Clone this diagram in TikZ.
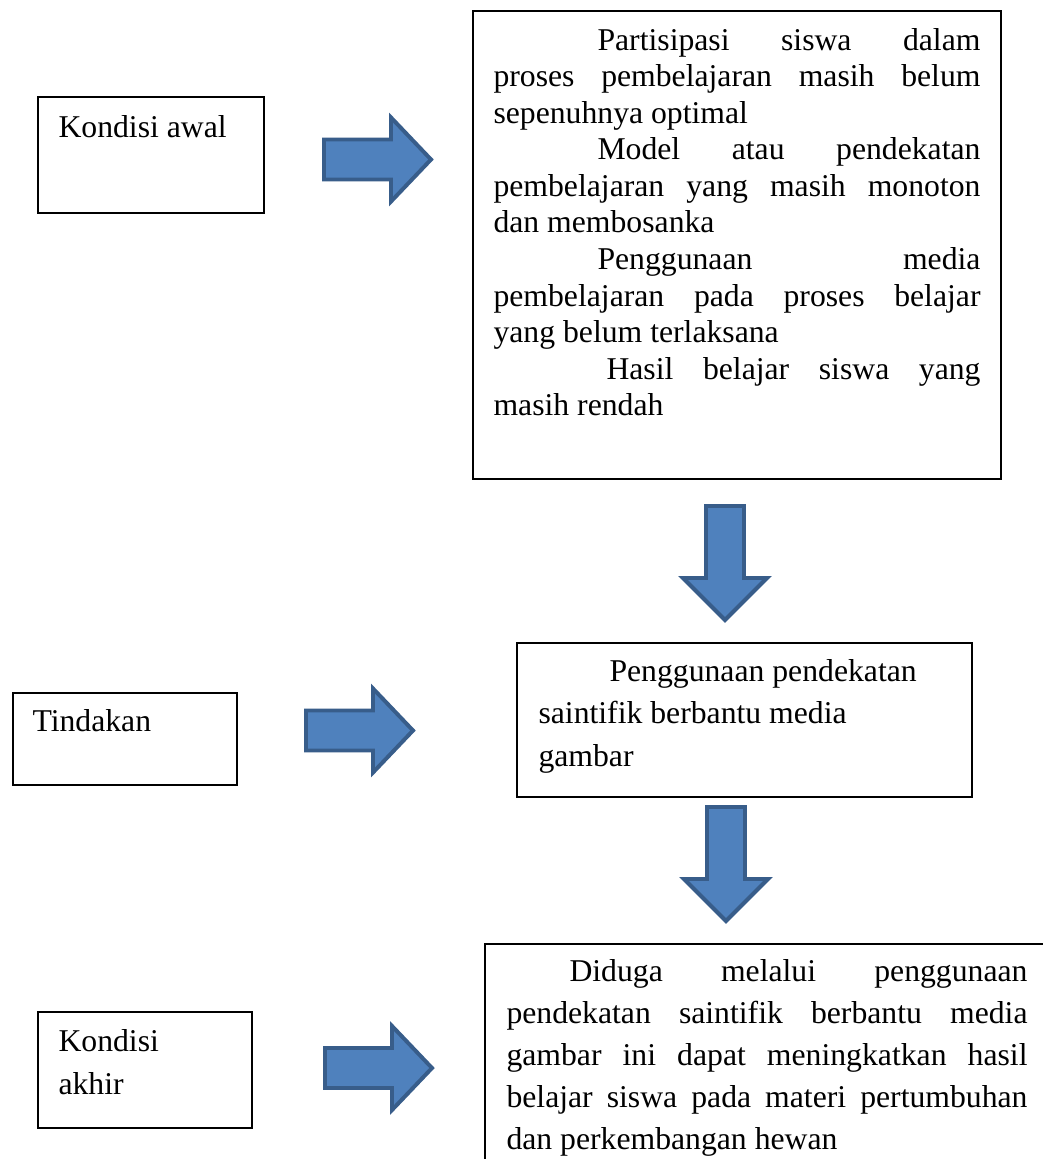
\documentclass[tikz,border=0pt]{standalone}
\usepackage{fontspec}
\setmainfont{Liberation Serif}
\newlength\pxu
\setlength\pxu{0.3785pt}
\definecolor{arrfill}{HTML}{4F81BD}
\definecolor{arrline}{HTML}{385D8A}
\tikzset{
  box/.style={draw=black, line width=0.75pt, inner sep=0pt, anchor=north west},
  blockarrow/.style={fill=arrfill, draw=arrline, line width=1.5pt, line join=miter},
  lbl/.style={inner sep=0pt, anchor=base west, font=\fontsize{12}{14}\selectfont},
}
\newcommand\jline[1]{\makebox[\linewidth][s]{#1}}
\newcommand\rightblock[2]{%
  \draw[blockarrow] (#1,#2-20) -- ++(67,0) -- ++(0,-22) -- ++(40,42) -- ++(-40,42)
    -- ++(0,-22) -- ++(-67,0) -- cycle;}
\newcommand\downblock[2]{%
  \draw[blockarrow] (#1-19,#2) -- ++(0,72) -- ++(-23,0) -- ++(42,42) -- ++(42,-42)
    -- ++(-23,0) -- ++(0,-72) -- cycle;}
\begin{document}
\begin{tikzpicture}[x=0.3785pt, y=-0.3785pt]
\useasboundingbox (0,0) rectangle (1043,1159);
\clip (0,0) rectangle (1043,1159);
\fill[white] (0,0) rectangle (1043,1159);

% boxes
\node[box, minimum width=226\pxu, minimum height=116\pxu] (awal) at (37,96) {};
\node[box, minimum width=528\pxu, minimum height=468\pxu] (masalah) at (472,10) {};
\node[box, minimum width=224\pxu, minimum height=92\pxu] (tindakan) at (12,692) {};
\node[box, minimum width=455\pxu, minimum height=154\pxu] (solusi) at (516,642) {};
\node[box, minimum width=214\pxu, minimum height=116\pxu] (akhir) at (37,1011) {};
\node[box, minimum width=620\pxu, minimum height=300\pxu] (hasil) at (484,943) {};

% texts
\node[lbl] (tawal) at (58,137) {Kondisi awal};
\node[lbl] (tmasalah) at (493,50) {\parbox[t]{487\pxu}{\fontsize{12}{13.85}\selectfont
  \jline{\hspace*{104\pxu}Partisipasi siswa dalam}\par
  \jline{proses pembelajaran masih belum}\par
  sepenuhnya optimal\par
  \jline{\hspace*{104\pxu}Model atau pendekatan}\par
  \jline{pembelajaran yang masih monoton}\par
  dan membosanka\par
  \jline{\hspace*{104\pxu}Penggunaan media}\par
  \jline{pembelajaran pada proses belajar}\par
  yang belum terlaksana\par
  \jline{\hspace*{113\pxu}Hasil belajar siswa yang}\par
  masih rendah}};
\node[lbl] (ttindakan) at (32,731) {Tindakan};
\node[lbl] (tsolusi) at (538,681) {\parbox[t]{430\pxu}{\fontsize{12}{16.1}\selectfont
  \hspace*{71\pxu}Penggunaan pendekatan\par
  saintifik berbantu media\par
  gambar}};
\node[lbl] (takhir) at (58,1051) {\parbox[t]{150\pxu}{\fontsize{12}{16.3}\selectfont
  Kondisi\par akhir}};
\node[lbl] (thasil) at (506,981) {\parbox[t]{521\pxu}{\fontsize{12}{15.9}\selectfont
  \jline{\hspace*{63\pxu}Diduga melalui penggunaan}\par
  \jline{pendekatan saintifik berbantu media}\par
  \jline{gambar ini dapat meningkatkan hasil}\par
  \jline{belajar siswa pada materi pertumbuhan}\par
  dan perkembangan hewan}};

% block arrows
\rightblock{324}{159.5}
\rightblock{306}{730.5}
\rightblock{325}{1068}
\downblock{725}{506}
\downblock{726}{807}
\end{tikzpicture}
\end{document}
